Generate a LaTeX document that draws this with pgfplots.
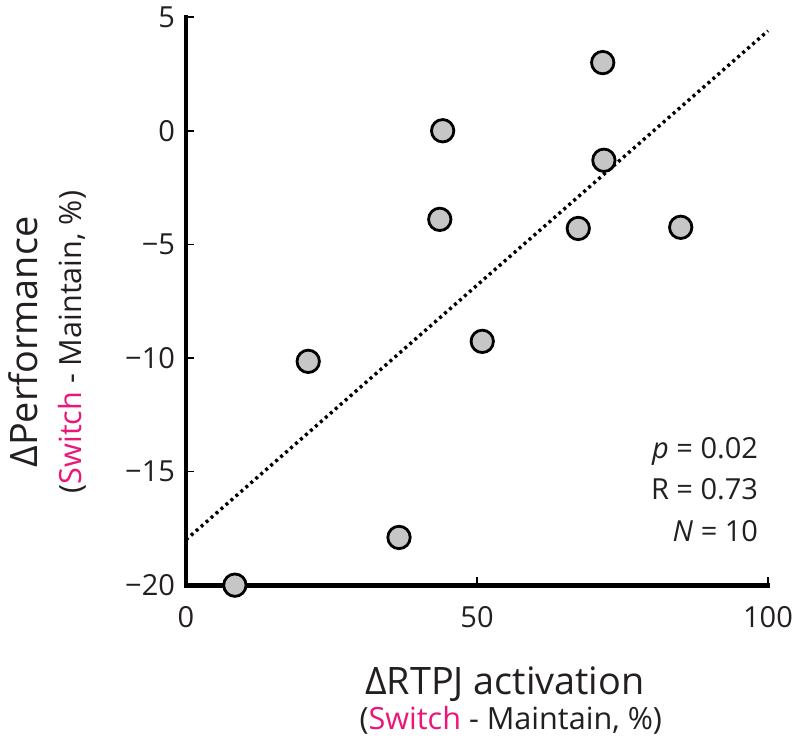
\documentclass[border=0pt]{standalone}
\usepackage{pgfplots}
\pgfplotsset{compat=1.18}
\usepackage{fontspec}
\setmainfont{Open Sans}
\definecolor{pinkS}{RGB}{236,22,120}
\definecolor{markgray}{RGB}{198,198,198}
\definecolor{txt}{RGB}{35,31,32}
\begin{document}
\begin{tikzpicture}
\begin{axis}[
  set layers,
  scale only axis,
  width=291pt, height=284pt,
  xmin=0, xmax=100, ymin=-20, ymax=5,
  axis x line=bottom, axis y line=left,
  axis line style={-, line width=2.4pt, line cap=rect},
  tick align=inside,
  major tick length=4pt,
  tick style={line width=0.8pt, black},
  xtick={0,50,100}, xticklabels={0,50,100},
  ytick={-20,-15,-10,-5,0,5}, yticklabels={−20,−15,−10,−5,0,5},
  tick label style={font=\fontsize{14.5}{17}\selectfont, text=txt},
  xticklabel style={yshift=-7pt},
  yticklabel style={xshift=-2pt},
  clip=false,
]
\addplot[line width=1.7pt, dash pattern=on 1.5pt off 1.8pt, black] coordinates {(0,-18.0) (100,4.4)};
\addplot[on layer=axis foreground, only marks, mark=*, mark size=5.6pt, mark options={fill=markgray, draw=black, line width=1.4pt}] coordinates {
(8.4,-20) (36.6,-17.9) (21.0,-10.15) (50.9,-9.27) (43.6,-3.9)
(44.1,0.0) (67.4,-4.3) (71.6,3.0) (71.8,-1.3) (85.0,-4.25)
};
\node[anchor=base east, font=\fontsize{14.5}{17}\selectfont, text=txt] at (axis cs:99.5,-14.43) {\textit{p} = 0.02};
\node[anchor=base east, font=\fontsize{14.5}{17}\selectfont, text=txt] at (axis cs:99.5,-16.23) {R = 0.73};
\node[anchor=base east, font=\fontsize{14.5}{17}\selectfont, text=txt] at (axis cs:99.5,-18.08) {\textit{N} = 10};
% y label
\node[rotate=90, anchor=base, font=\fontsize{18.9}{21}\selectfont, text=txt] at ([xshift=-74pt]axis cs:0,-9.3) {ΔPerformance};
\node[rotate=90, anchor=base, font=\fontsize{15.3}{17}\selectfont, text=txt] at ([xshift=-52pt]axis cs:0,-9.3) {(\textcolor{pinkS}{Switch} - Maintain, \%)};
% x label
\node[anchor=base, font=\fontsize{18.9}{21}\selectfont, text=txt] at ([yshift=-54.5pt]axis cs:54.8,-20) {ΔRTPJ activation};
\node[anchor=base, font=\fontsize{15.3}{17}\selectfont, text=txt] at ([yshift=-72pt]axis cs:55.8,-20) {(\textcolor{pinkS}{Switch} - Maintain, \%)};
\end{axis}
\path ([shift={(-93pt,-80.5pt)}]current axis.south west) rectangle ([shift={(16pt,8pt)}]current axis.north east);
\end{tikzpicture}
\end{document}
